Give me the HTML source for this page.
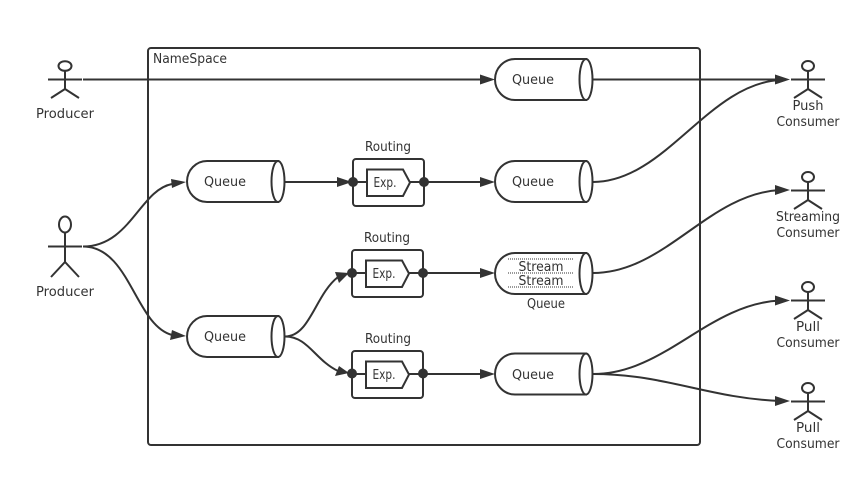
<!DOCTYPE html>
<html>
<head>
<meta charset="utf-8">
<style>
html,body{margin:0;padding:0;background:#fff;width:857px;height:478px;overflow:hidden}
svg{display:block}
text{font-family:"DejaVu Sans","Liberation Sans",sans-serif;font-size:13px;fill:#333;text-anchor:middle}
.l{fill:none;stroke:#333;stroke-width:2}
.q{fill:#fff;stroke:#333;stroke-width:2}
.a{fill:#333;stroke:none}
</style>
</head>
<body>
<svg width="857" height="478" viewBox="0 0 857 478" xmlns="http://www.w3.org/2000/svg">
<rect x="148" y="48" width="552" height="397" rx="3" class="l"/>
<text x="190" y="63" textLength="74" lengthAdjust="spacingAndGlyphs">NameSpace</text>

<!-- connectors -->
<path class="l" d="M83 79.500H482"/>
<path class="l" d="M593 79.500H776"/>
<path class="l" d="M83 246.500C130 246.500 140 190 172 184"/>
<path class="l" d="M83 246.500C130 246.500 135 325 172 335"/>
<path class="l" d="M285 182H352"/>
<path class="l" d="M424 182H482"/>
<path class="l" d="M423 273H482"/>
<path class="l" d="M423 374H482"/>
<path class="l" d="M285 336.500C310 336.500 315 295 338 277"/>
<path class="l" d="M285 336.500C308 336.500 315 360 338 371"/>
<path class="l" d="M593 182C665 182 708 84 780 80"/>
<path class="l" d="M593 273C665 273 708 194 780 190"/>
<path class="l" d="M593 374C665 374 708 304 780 300.500"/>
<path class="l" d="M593 374C665 374 708 398 780 401"/>

<!-- arrowheads -->
<polygon class="a" points="495,79.500 480,74.500 480,84.500"/>
<polygon class="a" points="790,79.500 775,74.500 775,84.500"/>
<polygon class="a" points="186,182 171,179 172,188"/>
<polygon class="a" points="186,336 172,330 170,340"/>
<polygon class="a" points="352,182 337,177 337,187"/>
<polygon class="a" points="495,182 480,177 480,187"/>
<polygon class="a" points="349,273 335,272 339,283"/>
<polygon class="a" points="495,273 480,268 480,278"/>
<polygon class="a" points="349,373 335,376 339,366"/>
<polygon class="a" points="495,374 480,369 480,379"/>
<polygon class="a" points="790,190 775,185 775,195"/>
<polygon class="a" points="790,300.500 775,295.500 775,305.500"/>
<polygon class="a" points="790,401 775,396 775,406"/>

<!-- queues -->
<path class="q" d="M515 59H586V100H515A20 20.500 0 0 1 515 59Z"/>
<ellipse class="q" cx="586" cy="79.500" rx="6.500" ry="20.500"/>
<text x="533" y="84" textLength="42" lengthAdjust="spacingAndGlyphs">Queue</text>

<path class="q" d="M207 161H278V202H207A20 20.500 0 0 1 207 161Z"/>
<ellipse class="q" cx="278" cy="181.500" rx="6.500" ry="20.500"/>
<text x="225" y="186" textLength="42" lengthAdjust="spacingAndGlyphs">Queue</text>

<path class="q" d="M207 316H278V357H207A20 20.500 0 0 1 207 316Z"/>
<ellipse class="q" cx="278" cy="336.500" rx="6.500" ry="20.500"/>
<text x="225" y="341" textLength="42" lengthAdjust="spacingAndGlyphs">Queue</text>

<path class="q" d="M515 161H586V202H515A20 20.500 0 0 1 515 161Z"/>
<ellipse class="q" cx="586" cy="181.500" rx="6.500" ry="20.500"/>
<text x="533" y="186" textLength="42" lengthAdjust="spacingAndGlyphs">Queue</text>

<path class="q" d="M515 253H586V294H515A20 20.500 0 0 1 515 253Z"/>
<ellipse class="q" cx="586" cy="273.500" rx="6.500" ry="20.500"/>
<path d="M508 259H574M508 273H574M508 287H574" fill="none" stroke="#333" stroke-width="1" stroke-dasharray="1 1"/>
<text x="541" y="271" textLength="45" lengthAdjust="spacingAndGlyphs">Stream</text>
<text x="541" y="285" textLength="45" lengthAdjust="spacingAndGlyphs">Stream</text>
<text x="546" y="308" textLength="38" lengthAdjust="spacingAndGlyphs">Queue</text>

<path class="q" d="M515 353.500H586V394.500H515A20 20.500 0 0 1 515 353.500Z"/>
<ellipse class="q" cx="586" cy="374" rx="6.500" ry="20.500"/>
<text x="533" y="379" textLength="42" lengthAdjust="spacingAndGlyphs">Queue</text>

<!-- routing -->
<text x="388" y="151" textLength="46" lengthAdjust="spacingAndGlyphs">Routing</text>
<rect class="q" x="353" y="159" width="71" height="47" rx="3"/>
<path class="l" d="M353 182H366M410 182H424"/>
<polygon class="q" points="367,169.500 403,169.500 410,182.500 403,196 367,196"/>
<text x="385" y="187" textLength="23" lengthAdjust="spacingAndGlyphs">Exp.</text>
<circle class="a" cx="353" cy="182" r="5"/>
<circle class="a" cx="424" cy="182" r="5"/>

<text x="387" y="242" textLength="46" lengthAdjust="spacingAndGlyphs">Routing</text>
<rect class="q" x="352" y="250" width="71" height="47" rx="3"/>
<path class="l" d="M352 273H365M409 273H423"/>
<polygon class="q" points="366,260.500 402,260.500 409,273.500 402,287 366,287"/>
<text x="384" y="278" textLength="23" lengthAdjust="spacingAndGlyphs">Exp.</text>
<circle class="a" cx="352" cy="273" r="5"/>
<circle class="a" cx="423" cy="273" r="5"/>

<text x="388" y="343" textLength="46" lengthAdjust="spacingAndGlyphs">Routing</text>
<rect class="q" x="352" y="351" width="71" height="47" rx="3"/>
<path class="l" d="M352 374H365M409 374H423"/>
<polygon class="q" points="366,361.500 402,361.500 409,374.500 402,388 366,388"/>
<text x="384" y="379" textLength="23" lengthAdjust="spacingAndGlyphs">Exp.</text>
<circle class="a" cx="352" cy="373.500" r="5"/>
<circle class="a" cx="423" cy="373.500" r="5"/>

<!-- actors -->
<g class="l">
<ellipse cx="65" cy="66" rx="6.500" ry="4.800"/>
<path d="M65 71V89M48 79.500H82M51 98L65 89L79 98"/>
<ellipse cx="65" cy="224.500" rx="6" ry="8"/>
<path d="M65 232.500V262M48 246.500H82M51 277L65 262L79 277"/>
<ellipse cx="808" cy="66" rx="6" ry="5"/>
<path d="M808 71V89M791 79.500H825M794 98L808 89L822 98"/>
<ellipse cx="808" cy="177" rx="6" ry="5"/>
<path d="M808 182V200M791 190.500H825M794 209L808 200L822 209"/>
<ellipse cx="808" cy="287" rx="6" ry="5"/>
<path d="M808 292V310M791 300.500H825M794 319L808 310L822 319"/>
<ellipse cx="808" cy="388" rx="6" ry="5"/>
<path d="M808 393V411M791 401.500H825M794 420L808 411L822 420"/>
</g>

<text x="65" y="118" textLength="58" lengthAdjust="spacingAndGlyphs">Producer</text>
<text x="65" y="296" textLength="58" lengthAdjust="spacingAndGlyphs">Producer</text>
<text x="808" y="110" textLength="31" lengthAdjust="spacingAndGlyphs">Push</text>
<text x="808" y="126" textLength="63" lengthAdjust="spacingAndGlyphs">Consumer</text>
<text x="808" y="221" textLength="64" lengthAdjust="spacingAndGlyphs">Streaming</text>
<text x="808" y="237" textLength="63" lengthAdjust="spacingAndGlyphs">Consumer</text>
<text x="808" y="331" textLength="24" lengthAdjust="spacingAndGlyphs">Pull</text>
<text x="808" y="347" textLength="63" lengthAdjust="spacingAndGlyphs">Consumer</text>
<text x="808" y="432" textLength="24" lengthAdjust="spacingAndGlyphs">Pull</text>
<text x="808" y="448" textLength="63" lengthAdjust="spacingAndGlyphs">Consumer</text>
</svg>
</body>
</html>
